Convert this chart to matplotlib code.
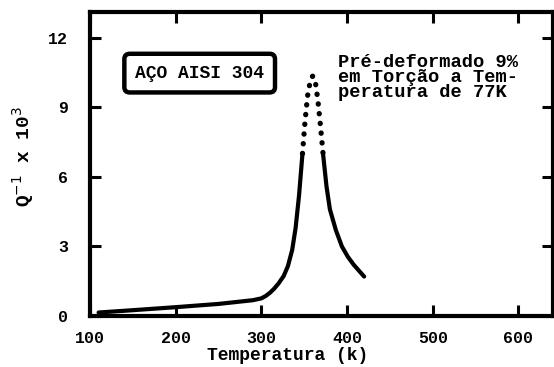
import matplotlib
matplotlib.use("Agg")
import matplotlib.pyplot as plt
import numpy as np

# Data
temperatura = [110, 150, 200, 250, 290, 300, 305, 310, 315, 320, 326, 331, 336, 340, 344, 348,
               351, 354, 357, 360, 363, 366, 369, 372,
               376, 380, 387, 394, 401, 408, 414, 420]
q_inv = [0.15, 0.25, 0.38, 0.52, 0.68, 0.76, 0.86, 1.0, 1.18, 1.4, 1.72, 2.15, 2.85, 3.8, 5.2, 7.0,
         8.4, 9.5, 10.1, 10.35, 10.1, 9.3, 8.2, 7.0,
         5.6, 4.6, 3.7, 3.0, 2.55, 2.2, 1.95, 1.7]
dotted_from, dotted_to = 348, 372

xticks = [100, 200, 300, 400, 500, 600]
yticks = [0, 3, 6, 9, 12]

FONT = "Liberation Mono"

fig = plt.figure(figsize=(5.54, 3.67), dpi=100)
ax = fig.add_axes([0.1625, 0.139, 0.835, 0.828])

t = np.array(temperatura)
q = np.array(q_inv)
left = t <= dotted_from
mid = (t >= dotted_from) & (t <= dotted_to)
right = t >= dotted_to
ax.plot(t[left], q[left], color="black", lw=3.0, solid_capstyle="round",
        solid_joinstyle="round")
ax.plot(t[right], q[right], color="black", lw=3.0, solid_capstyle="round",
        solid_joinstyle="round")
ax.plot(t[mid], q[mid], color="black", lw=3.8, linestyle=(0, (0.05, 1.8)),
        dash_capstyle="round")

ax.set_xlim(100, 640)
ax.set_ylim(0, 13.1)
ax.set_xticks(xticks)
ax.set_yticks(yticks)
ax.tick_params(direction="in", length=8, width=2.2, top=True, right=True,
               labelsize=12)
ax.tick_params(axis="x", pad=11)
ax.tick_params(axis="y", pad=16)
for lab in ax.get_xticklabels() + ax.get_yticklabels():
    lab.set_fontfamily(FONT)
    lab.set_fontweight("bold")
for sp in ax.spines.values():
    sp.set_linewidth(3.0)

ax.text(228, 10.47, "AÇO AISI 304", ha="center", va="center",
        fontfamily=FONT, fontweight="bold", fontsize=13,
        bbox=dict(boxstyle="round,pad=0.6,rounding_size=0.3", fc="white",
                  ec="black", lw=3.2))
ax.text(390, 11.3, "Pré-deformado 9%\nem Torção a Tem-\nperatura de 77K",
        ha="left", va="top", fontfamily=FONT, fontweight="bold",
        fontsize=13.5, linespacing=0.85)

fig.text(0.52, 0.03, "Temperatura (k)", ha="center", va="center",
         fontfamily=FONT, fontweight="bold", fontsize=13)
fig.text(0.042, 0.572, r"Q$^{-1}$ x 10$^{3}$", ha="center", va="center",
         rotation=90, fontfamily=FONT, fontweight="bold", fontsize=14)

fig.savefig("out.png", dpi=100)
